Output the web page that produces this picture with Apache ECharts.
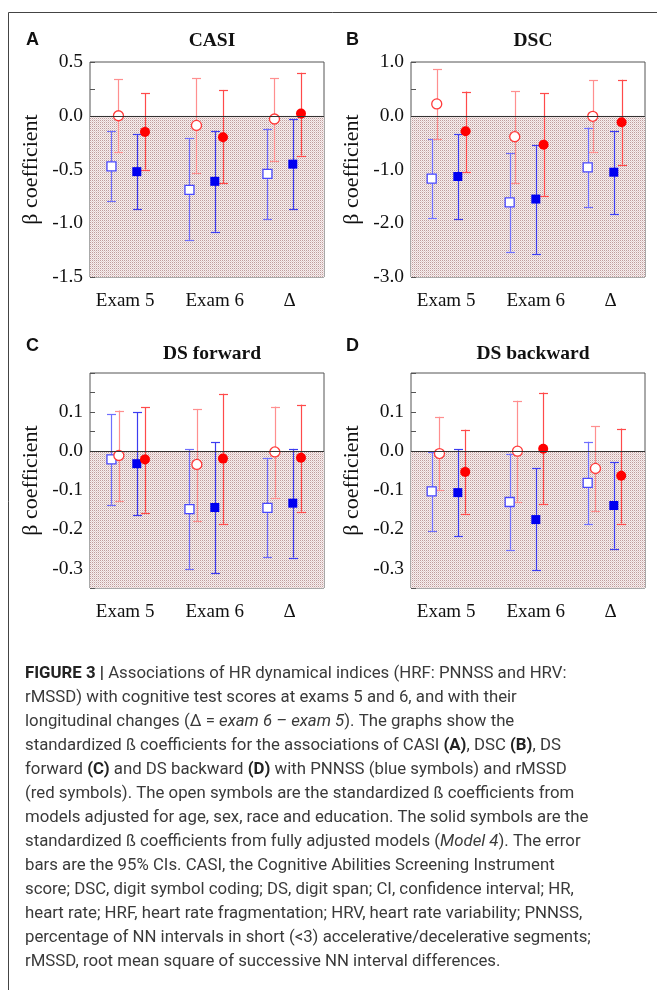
<!DOCTYPE html>
<html>
<head>
<meta charset="utf-8">
<script src="https://cdn.jsdelivr.net/npm/echarts@6/dist/echarts.min.js"></script>
<style>
html,body{margin:0;padding:0;background:#fff;}
#chart{width:657px;height:990px;}
</style>
</head>
<body>
<div id="chart"></div>
<script>
// ---------------- DATA ----------------
const categories = ['Exam 5', 'Exam 6', 'Δ'];
// each entry: [estimate, lower 95% CI, upper 95% CI]
const casiPnnssOpen  = [[-0.47, -0.79, -0.14], [-0.69, -1.16, -0.21], [-0.54, -0.96, -0.12]];
const casiPnnssSolid = [[-0.52, -0.87, -0.17], [-0.61, -1.08, -0.14], [-0.45, -0.87, -0.03]];
const casiRmssdOpen  = [[0.00, -0.34, 0.34], [-0.09, -0.53, 0.35], [-0.03, -0.42, 0.35]];
const casiRmssdSolid = [[-0.15, -0.50, 0.21], [-0.20, -0.63, 0.24], [0.02, -0.37, 0.40]];

const dscPnnssOpen  = [[-1.17, -1.91, -0.44], [-1.61, -2.53, -0.70], [-0.96, -1.70, -0.22]];
const dscPnnssSolid = [[-1.13, -1.93, -0.34], [-1.55, -2.57, -0.55], [-1.05, -1.83, -0.28]];
const dscRmssdOpen  = [[0.22, -0.44, 0.87], [-0.39, -1.26, 0.46], [-0.01, -0.68, 0.66]];
const dscRmssdSolid = [[-0.29, -1.05, 0.45], [-0.54, -1.49, 0.42], [-0.12, -0.91, 0.67]];

const dsfPnnssOpen  = [[-0.021, -0.137, 0.094], [-0.148, -0.301, 0.005], [-0.145, -0.271, -0.017]];
const dsfPnnssSolid = [[-0.032, -0.164, 0.099], [-0.144, -0.312, 0.023], [-0.133, -0.272, 0.006]];
const dsfRmssdOpen  = [[-0.011, -0.127, 0.104], [-0.034, -0.178, 0.108], [-0.002, -0.119, 0.114]];
const dsfRmssdSolid = [[-0.021, -0.157, 0.112], [-0.019, -0.186, 0.147], [-0.017, -0.155, 0.119]];

const dsbPnnssOpen  = [[-0.103, -0.204, -0.003], [-0.130, -0.252, -0.006], [-0.081, -0.187, 0.024]];
const dsbPnnssSolid = [[-0.106, -0.217, 0.005], [-0.175, -0.305, -0.043], [-0.139, -0.249, -0.028]];
const dsbRmssdOpen  = [[-0.006, -0.100, 0.088], [0.000, -0.131, 0.129], [-0.044, -0.153, 0.064]];
const dsbRmssdSolid = [[-0.053, -0.160, 0.055], [0.006, -0.136, 0.150], [-0.063, -0.185, 0.058]];

const panelTitles = ['CASI', 'DSC', 'DS forward', 'DS backward'];
const panelLetters = ['A', 'B', 'C', 'D'];
const yTickLabelsA = [0.5, 0.0, -0.5, -1.0, -1.5];
const yTickLabelsB = [1.0, 0.0, -1.0, -2.0, -3.0];
const yTickLabelsC = [0.1, 0.0, -0.1, -0.2, -0.3];
const yTickLabelsD = [0.1, 0.0, -0.1, -0.2, -0.3];

// ---------------- LAYOUT / STYLE ----------------
const panels = [
  {data: [casiPnnssOpen, casiRmssdOpen, casiPnnssSolid, casiRmssdSolid], labels: yTickLabelsA,
   min: -1.5, max: 0.5, interval: 0.25, left: 90, top: 62, offs: [0.275, 0.365, 0.60, 0.705], tx: 207, ty: 26, lx: 26, ly: 31},
  {data: [dscPnnssOpen, dscRmssdOpen, dscPnnssSolid, dscRmssdSolid], labels: yTickLabelsB,
   min: -3, max: 1, interval: 0.5, left: 411, top: 62, offs: [0.265, 0.33, 0.60, 0.70], tx: 528, ty: 26, lx: 346, ly: 31},
  {data: [dsfPnnssOpen, dsfRmssdOpen, dsfPnnssSolid, dsfRmssdSolid], labels: yTickLabelsC,
   min: -0.35, max: 0.2, interval: 0.05, left: 90, top: 373, offs: [0.275, 0.37, 0.60, 0.705], tx: 207, ty: 339, lx: 26, ly: 337},
  {data: [dsbPnnssOpen, dsbRmssdOpen, dsbPnnssSolid, dsbRmssdSolid], labels: yTickLabelsD,
   min: -0.35, max: 0.2, interval: 0.05, left: 411, top: 373, offs: [0.265, 0.365, 0.60, 0.695], tx: 528, ty: 339, lx: 346, ly: 337}
];
const GRID_W = 234, GRID_H = 215;
const xLabelPos = [0.45, 1.6, 2.56];

const styles = [
  {bar: '#6f6fff', symbol: 'rect',   size: 9,  fill: '#ffffff', border: '#4848ff', bw: 1.3},
  {bar: '#ff8f8f', symbol: 'circle', size: 10, fill: '#ffffff', border: '#ff3a3a', bw: 1.3},
  {bar: '#3c3cf0', symbol: 'rect',   size: 9,  fill: '#0000f0', border: '#0000f0', bw: 0},
  {bar: '#ff4a4a', symbol: 'circle', size: 10, fill: '#ff0000', border: '#ff0000', bw: 0}
];

const serif = 'Liberation Serif, Times New Roman, serif';

// dotted pattern for the negative region
const pat = document.createElement('canvas');
pat.width = 2; pat.height = 2;
(function () {
  const c = pat.getContext('2d');
  c.fillStyle = '#f7efef'; c.fillRect(0, 0, 2, 2);
  c.fillStyle = '#bf9d9d'; c.fillRect(0, 0, 1, 1);
  c.fillStyle = '#e2d0d0'; c.fillRect(1, 1, 1, 1);
})();

const grid = [], xAxis = [], yAxis = [], series = [], title = [], graphic = [];

panels.forEach((p, i) => {
  grid.push({left: p.left, top: p.top, width: GRID_W, height: GRID_H, show: true,
    borderColor: '#555', borderWidth: 1, backgroundColor: 'transparent'});
  xAxis.push({gridIndex: i, type: 'value', min: 0, max: 3,
    axisLine: {show: false}, axisTick: {show: false}, splitLine: {show: false},
    axisLabel: {customValues: xLabelPos, fontFamily: serif, fontSize: 19, color: '#111', margin: 15,
      formatter: v => { let k = 0, d = 9; xLabelPos.forEach((q, j) => { if (Math.abs(q - v) < d) { d = Math.abs(q - v); k = j; } }); return categories[k]; }}
  });
  const step = p.labels[0] - p.labels[1];
  yAxis.push({gridIndex: i, type: 'value', min: p.min, max: p.max, interval: p.interval,
    name: 'β coefficient', nameLocation: 'middle', nameGap: 48, nameRotate: 90,
    nameTextStyle: {fontFamily: serif, fontSize: 22, color: '#111'},
    axisLine: {show: false}, splitLine: {show: false},
    axisTick: {show: true, inside: true, length: 5, lineStyle: {color: '#555'}},
    axisLabel: {fontFamily: serif, fontSize: 19.5, color: '#111', margin: 7, showMinLabel: true, showMaxLabel: true,
      formatter: v => {
        const hit = p.labels.some(l => Math.abs(l - v) < step * 1e-3);
        return hit ? (Math.abs(v) < 1e-9 ? '0.0' : v.toFixed(1)) : '';
      }}
  });
  title.push({text: panelTitles[i], left: p.tx, top: p.ty, textAlign: 'center',
    textStyle: {fontFamily: serif, fontWeight: 'bold', fontSize: 19.5, color: '#111'}});
  graphic.push({type: 'text', left: p.lx, top: p.ly,
    style: {text: panelLetters[i], font: 'bold 18px Liberation Sans, Arial, sans-serif', fill: '#111'}});

  // shaded negative area + zero line
  series.push({type: 'line', xAxisIndex: i, yAxisIndex: i, data: [], silent: true,
    markArea: {silent: true, itemStyle: {color: {image: pat, repeat: 'repeat'}},
      data: [[{yAxis: p.min}, {yAxis: 0}]]},
    markLine: {silent: true, symbol: 'none', label: {show: false},
      lineStyle: {color: '#333', width: 1, type: 'solid'}, data: [{yAxis: 0}]}
  });

  p.data.forEach((arr, s) => {
    const st = styles[s];
    const pts = arr.map((d, g) => [g + p.offs[s], d[0], d[1], d[2]]);
    series.push({type: 'custom', xAxisIndex: i, yAxisIndex: i, z: 3, silent: true,
      data: pts, encode: {x: 0, y: [2, 3]},
      renderItem: (params, api) => {
        const x = api.value(0);
        const a = api.coord([x, api.value(2)]);
        const b = api.coord([x, api.value(3)]);
        const px = Math.round(a[0]) + 0.5;
        const w = 4.5;
        const ls = {stroke: st.bar, lineWidth: 1.2};
        return {type: 'group', children: [
          {type: 'line', shape: {x1: px, y1: a[1], x2: px, y2: b[1]}, style: ls},
          {type: 'line', shape: {x1: px - w, y1: Math.round(a[1]) + 0.5, x2: px + w, y2: Math.round(a[1]) + 0.5}, style: ls},
          {type: 'line', shape: {x1: px - w, y1: Math.round(b[1]) + 0.5, x2: px + w, y2: Math.round(b[1]) + 0.5}, style: ls}
        ]};
      }
    });
    series.push({type: 'scatter', xAxisIndex: i, yAxisIndex: i, z: 4, silent: true,
      symbol: st.symbol, symbolSize: st.size,
      itemStyle: {color: st.fill, borderColor: st.border, borderWidth: st.bw, opacity: 1},
      data: pts.map(q => [q[0], q[1]])
    });
  });
});

// frame
graphic.push({type: 'line', shape: {x1: 8.5, y1: 12.5, x2: 657, y2: 12.5}, style: {stroke: '#444', lineWidth: 1}});
graphic.push({type: 'line', shape: {x1: 8.5, y1: 12.5, x2: 8.5, y2: 990}, style: {stroke: '#444', lineWidth: 1}});

// caption
const captionLines = [
  '{b|FIGURE 3 |} Associations of HR dynamical indices (HRF: PNNSS and HRV:',
  'rMSSD) with cognitive test scores at exams 5 and 6, and with their',
  'longitudinal changes (Δ = {i|exam 6 – exam 5}). The graphs show the',
  'standardized ß coefficients for the associations of CASI {b|(A)}, DSC {b|(B)}, DS',
  'forward {b|(C)} and DS backward {b|(D)} with PNNSS (blue symbols) and rMSSD',
  '(red symbols). The open symbols are the standardized ß coefficients from',
  'models adjusted for age, sex, race and education. The solid symbols are the',
  'standardized ß coefficients from fully adjusted models ({i|Model 4}). The error',
  'bars are the 95% CIs. CASI, the Cognitive Abilities Screening Instrument',
  'score; DSC, digit symbol coding; DS, digit span; CI, confidence interval; HR,',
  'heart rate; HRF, heart rate fragmentation; HRV, heart rate variability; PNNSS,',
  'percentage of NN intervals in short (<3) accelerative/decelerative segments;',
  'rMSSD, root mean square of successive NN interval differences.'
];
const capFont = 'Roboto, Liberation Sans, sans-serif';
const capSize = 16.8;
captionLines.forEach((t, k) => {
  graphic.push({type: 'text', x: 25, y: 674 + 24 * k,
    style: {text: t, fontFamily: capFont, fontSize: capSize, fill: '#3a3a3a', verticalAlign: 'middle',
      rich: {b: {fontFamily: capFont, fontSize: capSize, fontWeight: 'bold', fill: '#222', color: '#222'},
             i: {fontFamily: capFont, fontSize: capSize, fontStyle: 'italic', fill: '#3a3a3a', color: '#3a3a3a'}}}});
});

const chart = echarts.init(document.getElementById('chart'), null, {renderer: 'canvas'});
chart.setOption({animation: false, backgroundColor: '#fff', title, grid, xAxis, yAxis, series, graphic});
</script>
</body>
</html>
